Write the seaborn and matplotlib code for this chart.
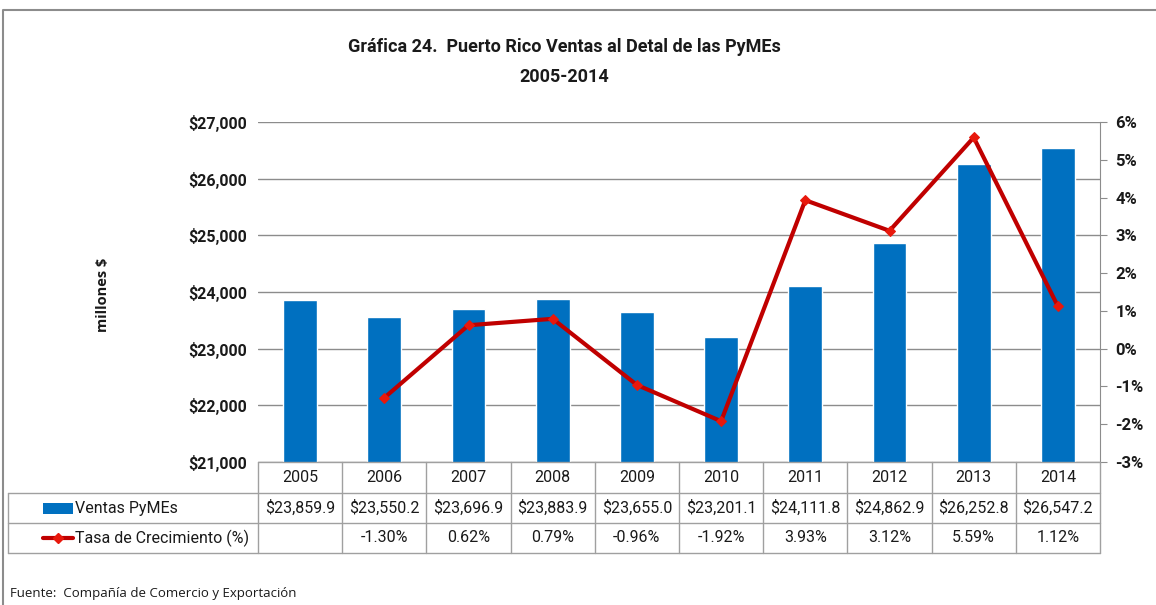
import numpy as np
import pandas as pd
import matplotlib
matplotlib.use('Agg')
import matplotlib.pyplot as plt
import seaborn as sns
from matplotlib.ticker import FuncFormatter, MultipleLocator
from matplotlib.patches import Rectangle
from matplotlib.lines import Line2D

# ---------------------------------------------------------------------------
# Data
# ---------------------------------------------------------------------------
years = ['2005', '2006', '2007', '2008', '2009', '2010', '2011', '2012', '2013', '2014']
ventas = [23859.9, 23550.2, 23696.9, 23883.9, 23655.0, 23201.1, 24111.8, 24862.9, 26252.8, 26547.2]
tasa = [np.nan, -1.30, 0.62, 0.79, -0.96, -1.92, 3.93, 3.12, 5.59, 1.12]

title = 'Gráfica 24.  Puerto Rico Ventas al Detal de las PyMEs\n2005-2014'
row_labels = ['Ventas PyMEs', 'Tasa de Crecimiento (%)']
fuente = 'Fuente:  Compañía de Comercio y Exportación'

bar_color = '#0070C0'
line_color = '#C00000'
grid_color = '#8C8C8C'

sns.set_style('white')
plt.rcParams['font.family'] = ['Roboto', 'DejaVu Sans']

W, H = 1156, 605
fig = plt.figure(figsize=(W / 100, H / 100), dpi=100)

# pixel coordinates of the plot area
px0, px1 = 258, 1100
py0, py1 = 122, 462


def fx(x):
    return x / W


df = pd.DataFrame({'year': years, 'ventas': ventas, 'tasa': tasa})

ax = fig.add_axes([fx(px0), 1 - py1 / H, fx(px1 - px0), (py1 - py0) / H])
sns.barplot(data=df, x='year', y='ventas', color=bar_color, width=0.4,
            saturation=1, ax=ax)
ax.set_ylim(21000, 27000)
ax.set_xlim(-0.5, len(years) - 0.5)
ax.yaxis.set_major_locator(MultipleLocator(1000))
ax.yaxis.set_major_formatter(FuncFormatter(lambda v, p: f'${v:,.0f}'))
ax.yaxis.grid(True, color=grid_color, linewidth=1)
ax.set_axisbelow(True)
ax.set_xlabel('')
ax.set_ylabel('')
ax.set_xticks([])
ax.tick_params(axis='y', labelsize=11.5, length=0, pad=8, labelcolor='#1a1a1a')
for lab in ax.get_yticklabels():
    lab.set_fontweight('bold')
for s in ax.spines.values():
    s.set_visible(False)

ax2 = ax.twinx()
xs = np.arange(len(years))
sns.lineplot(x=xs, y=df['tasa'], ax=ax2, color=line_color, linewidth=3,
             marker='D', markersize=5, markerfacecolor='#E8180C',
             markeredgecolor='#E8180C')
ax2.set_ylim(-3, 6)
ax2.set_xlim(-0.5, len(years) - 0.5)
ax2.yaxis.set_major_locator(MultipleLocator(1))
ax2.yaxis.set_major_formatter(FuncFormatter(lambda v, p: f'{v:.0f}%'))
ax2.set_ylabel('')
ax2.tick_params(axis='y', labelsize=12, length=5, color=grid_color, pad=6,
                labelcolor='#1a1a1a')
for lab in ax2.get_yticklabels():
    lab.set_fontweight('bold')
for name, s in ax2.spines.items():
    s.set_visible(name == 'right')
ax2.spines['right'].set_color(grid_color)

# ---------------------------------------------------------------------------
# Data table, title and notes on an overlay in pixel coordinates
# ---------------------------------------------------------------------------
ov = fig.add_axes([0, 0, 1, 1])
ov.set_xlim(0, W)
ov.set_ylim(H, 0)
ov.axis('off')

colw = (px1 - px0) / len(years)
rows_y = [462, 493, 523, 553]
tcol = '#A0A0A0'
lw = 1

# header row (years) starts at the plot area
ov.plot([px0, px1], [rows_y[0], rows_y[0]], color=tcol, lw=lw)
for r in rows_y[1:]:
    ov.plot([8, px1], [r, r], color=tcol, lw=lw)
ov.plot([8, 8], [rows_y[1], rows_y[3]], color=tcol, lw=lw)
for i in range(len(years) + 1):
    ov.plot([px0 + i * colw] * 2, [rows_y[0], rows_y[3]], color=tcol, lw=lw)

tf = dict(fontsize=11.5, ha='center', va='center', color='#1a1a1a')
for i, y in enumerate(years):
    cx = px0 + (i + 0.5) * colw
    ov.text(cx, (rows_y[0] + rows_y[1]) / 2, y, **tf)
    ov.text(cx, (rows_y[1] + rows_y[2]) / 2, f'${ventas[i]:,.1f}', **tf)
    if not np.isnan(tasa[i]):
        ov.text(cx, (rows_y[2] + rows_y[3]) / 2, f'{tasa[i]:.2f}%', **tf)

# legend keys inside the table
ov.add_patch(Rectangle((43, 503), 30, 11, color=bar_color, lw=0))
ov.text(75, (rows_y[1] + rows_y[2]) / 2, row_labels[0], fontsize=11.5,
        ha='left', va='center', color='#1a1a1a')
ov.add_line(Line2D([43, 73], [538, 538], color=line_color, lw=3))
ov.plot([58], [538], marker='D', markersize=5, color='#E8180C')
ov.text(75, (rows_y[2] + rows_y[3]) / 2, row_labels[1], fontsize=11.5,
        ha='left', va='center', color='#1a1a1a')

ov.text(564, 62, title, fontsize=13, fontweight='bold', ha='center',
        va='center', linespacing=1.8, color='#1a1a1a')
ov.text(103, 295, 'millones $', rotation=90, fontsize=10.5, fontweight='bold',
        ha='center', va='center', color='#1a1a1a', family='Open Sans')
ov.text(10, 593, fuente, fontsize=9.5, ha='left', va='center', color='#1a1a1a',
        family='Open Sans')

# chart frame
ov.plot([3, 3, W + 5], [H + 5, 10, 10], color='#8C8C8C', lw=1.5)

fig.savefig('out.png', dpi=100)
